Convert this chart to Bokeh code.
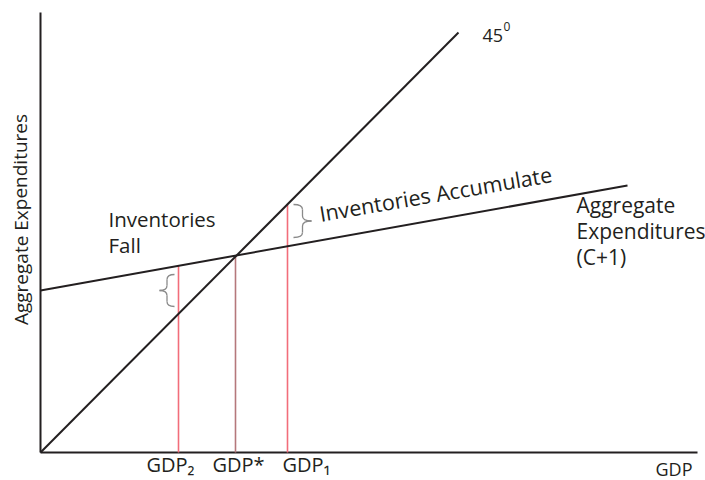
from bokeh.plotting import figure
from bokeh.models import Range1d
from bokeh.core.properties import value
from bokeh.embed import file_html
from bokeh.resources import INLINE

# ---- data (chart units, origin at the axes corner) ----
line45_x = [0, 418]
line45_y = [0, 420]
ae_x = [0, 587]
ae_y = [162, 267]
gdp_x = [138, 195, 247]
gdp_top = [187, 197, 248]
gdp_labels = ["GDP\u2082", "GDP*", "GDP\u2081"]
gdp_label_x = [106, 172, 242]
gdp_colors = ["#f26d7a", "#b5787c", "#f26d7a"]
yaxis_top = 440
xaxis_right = 657

FONT = "Open Sans"
TXT = "#231f20"
DY = 9  # baseline correction for text rendering

p = figure(width=705, height=480, output_backend="svg", toolbar_location=None,
           x_range=Range1d(-40, 665), y_range=Range1d(-28, 452),
           min_border=0)
p.axis.visible = False
p.grid.visible = False
p.outline_line_color = None
p.background_fill_color = "white"

# axes
p.line([0, 0], [0, yaxis_top], line_color=TXT, line_width=2)
p.line([0, xaxis_right], [0, 0], line_color=TXT, line_width=2)

# vertical GDP lines
p.segment(x0=gdp_x, y0=[0] * 3, x1=gdp_x, y1=gdp_top, line_color=gdp_colors, line_width=1.6)

# 45 degree line and AE line
p.line(line45_x, line45_y, line_color=TXT, line_width=2)
p.line(ae_x, ae_y, line_color=TXT, line_width=2)


def brace(xe, xt, ytop, ybot, color="#8a8a8a"):
    xm = (xe + xt) / 2.0
    yc = (ytop + ybot) / 2.0
    r = 5.0 if ytop > ybot else -5.0
    p.quadratic(x0=[xe, xm, xe, xm], y0=[ytop, yc + r, ybot, yc - r],
                x1=[xm, xt, xm, xt], y1=[ytop - r, yc, ybot + r, yc],
                cx=[xm, xm, xm, xm], cy=[ytop, yc, ybot, yc],
                line_color=color, line_width=1.3)
    p.segment(x0=[xm, xm], y0=[ytop - r, ybot + r], x1=[xm, xm], y1=[yc + r, yc - r],
              line_color=color, line_width=1.3)


brace(134, 119, 178, 146)
brace(253, 271, 248, 215)

# texts
def txt(x, y, s, size, align="left", baseline="alphabetic", angle=0.0, dy=DY):
    p.text(x=[x], y=[y + dy], text=[s], text_font=value(FONT), text_font_size=f"{size}px",
           text_color=TXT, text_align=align, text_baseline=baseline, angle=angle)

txt(442, 408, "45", 18)
txt(463, 417, "0", 12)
txt(279, 230, "Inventories Accumulate", 21.5, angle=0.17)
txt(68, 225, "Inventories", 20.5)
txt(68, 199, "Fall", 20.5)
txt(536, 239, "Aggregate", 21)
txt(536, 213, "Expenditures", 21)
txt(536, 187, "(C+1)", 21)
txt(-20, 233, "Aggregate Expenditures", 19, align="center", baseline="middle", angle=1.5708, dy=0)
for lx, lab in zip(gdp_label_x, gdp_labels):
    txt(lx, -21, lab, 20)
txt(615, -25, "GDP", 18)

open("out.html", "w").write(file_html(p, INLINE))
